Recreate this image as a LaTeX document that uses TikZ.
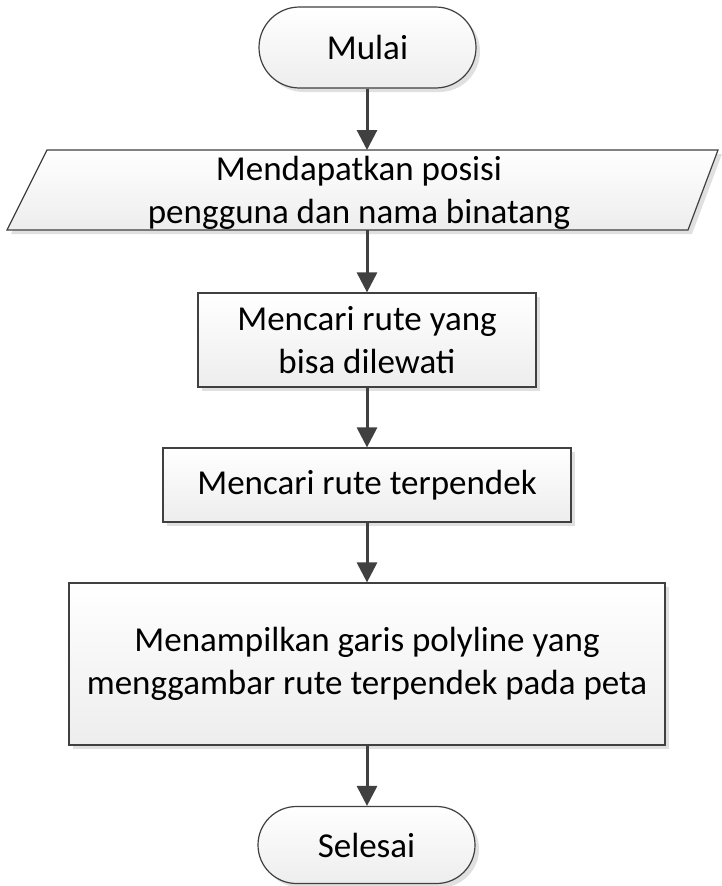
\documentclass[tikz,border=0pt]{standalone}
\usepackage{fontspec}
\setmainfont{Carlito}
\usetikzlibrary{shapes.geometric,shapes.misc,arrows.meta,shadows}
\definecolor{edge}{HTML}{404040}
\definecolor{shad}{HTML}{E0E0E0}
\tikzset{
  box/.style={draw=edge, line width=1.2pt, top color=white, bottom color=black!7,
    drop shadow={shadow xshift=4pt, shadow yshift=-4pt, fill=shad, opacity=1},
    font=\fontsize{35}{43}\selectfont, align=center, inner sep=0pt},
  flow/.style={draw=edge, line width=3pt, -{Triangle[length=20pt,width=20pt]}},
}
\begin{document}
\begin{tikzpicture}[x=1pt,y=-1pt]
\useasboundingbox (0,0) rectangle (722,886);
% Mulai
\node[box, rounded rectangle, minimum width=217pt, minimum height=81pt] (start) at (367.5,47.5) {Mulai};
% parallelogram
\path[box] (47,150) -- (718,150) -- (688,230) -- (7,230) -- cycle;
\node[font=\fontsize{35}{43}\selectfont, align=center] (input) at (359,193) {Mendapatkan posisi\\pengguna dan nama binatang};
\coordinate (inputtop) at (367,150);
\coordinate (inputbot) at (367,230);
% boxes
\node[box, minimum width=338pt, minimum height=94pt] (route) at (367,340) {Mencari rute yang\\bisa dilewati};
\node[box, minimum width=408pt, minimum height=74pt] (short) at (367,485) {Mencari rute terpendek};
\node[box, minimum width=596pt, minimum height=162pt] (show) at (367,664) {Menampilkan garis polyline yang\\menggambar rute terpendek pada peta};
\node[box, rounded rectangle, minimum width=217pt, minimum height=77pt] (end) at (366.5,845) {Selesai};
% arrows
\draw[flow] (start.south -| inputtop) -- (inputtop);
\draw[flow] (inputbot) -- (route.north -| inputbot);
\draw[flow] (route.south -| inputbot) -- (short.north -| inputbot);
\draw[flow] (short.south -| inputbot) -- (show.north -| inputbot);
\draw[flow] (show.south -| inputbot) -- (end.north -| inputbot);
\end{tikzpicture}
\end{document}
